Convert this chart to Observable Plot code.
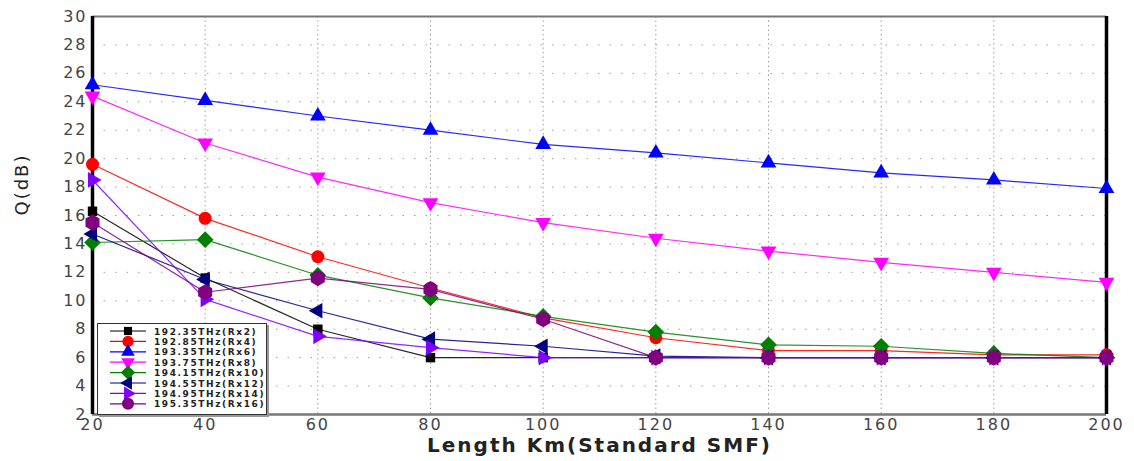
<!DOCTYPE html>
<html><head><meta charset="utf-8">
<script src="https://cdn.jsdelivr.net/npm/d3@7"></script>
<script src="https://cdn.jsdelivr.net/npm/@observablehq/plot@0.6"></script>
<style>
body{margin:0;background:#fff}
#wrap{position:relative;width:1134px;height:461px;overflow:hidden}
#legend{position:absolute;left:97px;top:323px;width:168px;height:90px;border:1px solid #333;background:#fff;box-shadow:2px 2px 0 #999}
</style>
</head><body><div id="wrap"></div>
<script>
const lengths = [20, 40, 60, 80, 100, 120, 140, 160, 180, 200];
const yTicks = [2, 4, 6, 8, 10, 12, 14, 16, 18, 20, 22, 24, 26, 28, 30];
const seriesNames = ["192.35THz(Rx2)", "192.85THz(Rx4)", "193.35THz(Rx6)", "193.75THz(Rx8)",
  "194.15THz(Rx10)", "194.55THz(Rx12)", "194.95THz(Rx14)", "195.35THz(Rx16)"];
const rx2  = [16.3, 11.6, 8.0, 6.0, 6.0, 6.0, 6.0, 6.0, 6.0, 6.0];
const rx4  = [19.6, 15.8, 13.1, 10.9, 8.8, 7.4, 6.5, 6.5, 6.2, 6.2];
const rx6  = [25.2, 24.1, 23.0, 22.0, 21.0, 20.4, 19.7, 19.0, 18.5, 17.9];
const rx8  = [24.4, 21.1, 18.7, 16.9, 15.5, 14.4, 13.5, 12.7, 12.0, 11.3];
const rx10 = [14.1, 14.3, 11.8, 10.2, 8.9, 7.8, 6.9, 6.8, 6.3, 6.0];
const rx12 = [14.7, 11.5, 9.3, 7.3, 6.8, 6.1, 6.0, 6.0, 6.0, 6.0];
const rx14 = [18.5, 10.1, 7.5, 6.7, 6.0, 6.0, 6.0, 6.0, 6.0, 6.0];
const rx16 = [15.5, 10.6, 11.6, 10.8, 8.7, 6.0, 6.0, 6.0, 6.0, 6.0];
const seriesValues = [rx2, rx4, rx6, rx8, rx10, rx12, rx14, rx16];
const colors = ["#000000", "#ff0000", "#0000ff", "#ff00ff", "#008000", "#000080", "#8000ff", "#800080"];
const symbols = ["square2", "circle", "triangle2", "triangle2", "diamond2", "triangle2", "triangle2", "hexagon"];
const rotations = [0, 0, 0, 180, 0, -90, 90, 0];
const sizes = [6, 6.5, 7.5, 7.5, 7.5, 7.5, 7.5, 7];

const rows = [];
seriesNames.forEach((s, i) => seriesValues[i].forEach((v, j) => rows.push({series: s, idx: i, x: lengths[j], y: v})));

const marks = [
  Plot.gridY(yTicks.slice(1, -1), {stroke: "#888", strokeOpacity: 0.8, strokeDasharray: "1.5,10"}),
  Plot.gridX(lengths.slice(1, -1), {stroke: "#888", strokeOpacity: 0.8, strokeDasharray: "1.5,3"}),
  Plot.ruleY([30], {stroke: "#777", strokeWidth: 2}),
  Plot.ruleY([2], {stroke: "#777", strokeWidth: 2.5}),
  Plot.ruleX([20], {stroke: "#000", strokeWidth: 3.5}),
  Plot.ruleX([200], {stroke: "#000", strokeWidth: 3.5}),
  Plot.axisY(yTicks, {tickSize: 0, tickPadding: 5, label: null, fill: "#444", fontSize: 16}),
  Plot.axisX(lengths, {tickSize: 0, tickPadding: 4, label: null, fill: "#444", fontSize: 16}),
  Plot.line(rows, {x: "x", y: "y", z: "series", stroke: "series", strokeWidth: 1.2, strokeOpacity: 0.85}),
];
seriesNames.forEach((s, i) => {
  marks.push(Plot.dot(rows.filter(d => d.idx === i), {x: "x", y: "y", symbol: () => symbols[i], r: sizes[i],
    fill: colors[i], stroke: "none", rotate: rotations[i]}));
});
marks.push(Plot.text(["Length Km(Standard SMF)"], {frameAnchor: "bottom", dy: 37, fontSize: 20, fontWeight: "bold",
  fill: "#222", text: d => d, style: "letter-spacing:6px"}));
marks.push(Plot.text(["Q(dB)"], {frameAnchor: "left", dx: -70, rotate: -90, fontSize: 18, fill: "#222", text: d => d}));

const chart = Plot.plot({
  width: 1134, height: 461,
  marginLeft: 92, marginRight: 28, marginTop: 16, marginBottom: 47,
  x: {domain: [20, 200], ticks: lengths},
  y: {domain: [2, 30], ticks: yTicks},
  color: {domain: seriesNames, range: colors},
  symbol: {type: "identity"},
  style: {fontFamily: "DejaVu Sans, sans-serif", fontSize: "16px", letterSpacing: "2px", background: "#fff", overflow: "visible"},
  marks
});
document.getElementById("wrap").appendChild(chart);

// legend
const leg = document.createElement("div");
leg.id = "legend";
document.getElementById("wrap").appendChild(leg);
const svg = d3.select(leg).append("svg").attr("width", 168).attr("height", 90);
const symMap = {square2: d3.symbolSquare2, circle: d3.symbolCircle, triangle2: d3.symbolTriangle2, diamond2: d3.symbolDiamond2, hexagon: d3.symbolCircle};
seriesNames.forEach((s, i) => {
  const y = 7 + i * 10.4;
  svg.append("line").attr("x1", 12).attr("x2", 48).attr("y1", y).attr("y2", y).attr("stroke", colors[i]).attr("stroke-width", 1.2);
  const area = Math.PI * sizes[i] * sizes[i] * 0.75;
  svg.append("path").attr("d", d3.symbol(symMap[symbols[i]], area)())
    .attr("transform", `translate(30,${y}) rotate(${rotations[i]})`).attr("fill", colors[i]);
  svg.append("text").attr("x", 56).attr("y", y + 3.5).attr("font-size", 9).attr("font-weight", "bold")
    .attr("font-family", "DejaVu Sans, sans-serif").attr("letter-spacing", "1.6px").attr("fill", "#222").text(s);
});
</script>
</body></html>
